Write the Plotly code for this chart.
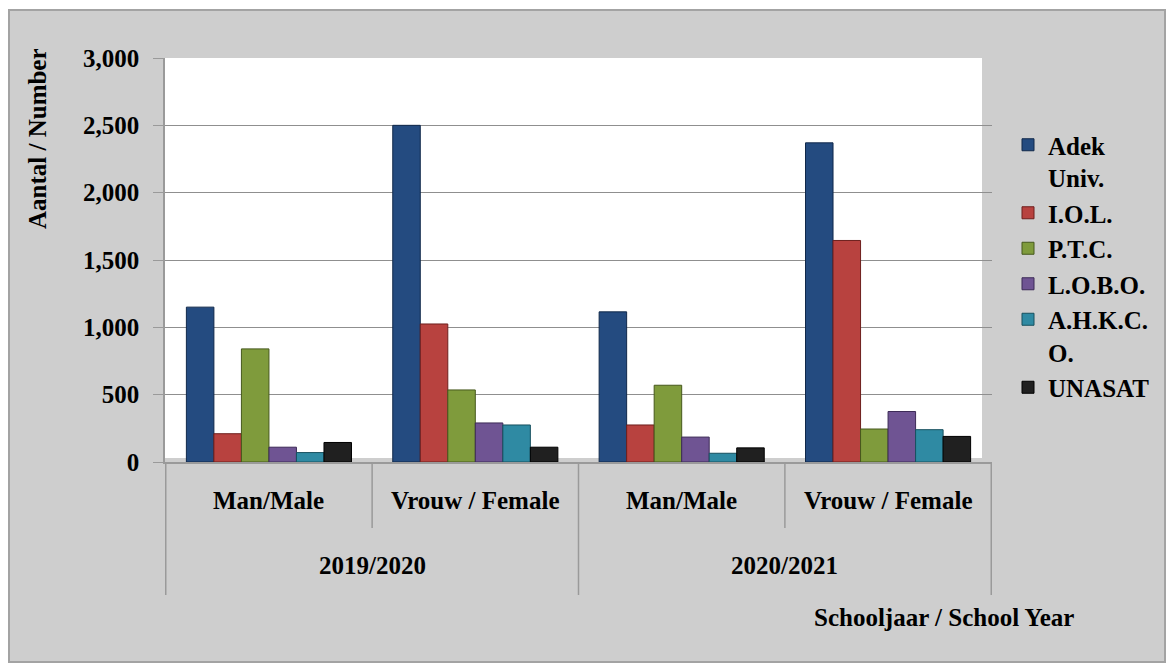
import plotly.graph_objects as go

# data
years = ["2019/2020", "2020/2021"]
genders = ["Man/Male", "Vrouw / Female"]
institutes = ["Adek<br>Univ.", "I.O.L.", "P.T.C.", "L.O.B.O.", "A.H.K.C.<br>O.", "UNASAT"]

# values per category: 2019 male, 2019 female, 2020 male, 2020 female
adek = [1150, 2500, 1115, 2370]
iol = [210, 1025, 275, 1645]
ptc = [840, 535, 570, 245]
lobo = [110, 290, 185, 375]
ahkco = [70, 275, 65, 240]
unasat = [145, 110, 105, 190]

colors = ["#244b80", "#b8423f", "#7f9b3c", "#6f5493", "#2f8aa3", "#202020"]
outlines = ["#10284a", "#6e1f1d", "#46581c", "#3d2b57", "#17505f", "#000000"]

series = [adek, iol, ptc, lobo, ahkco, unasat]
cats = [f"{y} {g}" for y in years for g in genders]

FONT = "Times New Roman, Liberation Serif, serif"
FS = 25
OFF = 8  # the page body adds an 8px margin

# plot area in page pixels
L, R, T, B = 165, 992, 58, 462
W, H = 1174 - OFF, 668 - OFF


def px_x(p):
    return (p - L) / (R - L)


def px_y(p):
    return (B - p) / (B - T)


def bold(size=FS):
    return dict(family=FONT, size=size, color="black", weight="bold")


fig = go.Figure()
for i, (name, vals, c, oc) in enumerate(zip(institutes, series, colors, outlines)):
    fig.add_trace(
        go.Bar(
            x=cats,
            y=vals,
            name=name,
            legendgroup=str(i),
            marker=dict(color=c, line=dict(color=oc, width=1)),
        )
    )

shapes = [
    # outer gray frame
    dict(type="rect", xref="paper", yref="paper", layer="below",
         x0=px_x(9), x1=px_x(1165), y0=px_y(662), y1=px_y(10),
         fillcolor="#cecece", line=dict(color="#a3a3a3", width=2)),
    # white plot area
    dict(type="rect", xref="paper", yref="paper", layer="below",
         x0=0, x1=px_x(982), y0=px_y(458), y1=1,
         fillcolor="white", line=dict(width=0)),
]
# category table dividers
for i, x in enumerate([-0.5, 0.5, 1.5, 2.5, 3.5]):
    bottom = px_y(595) if i % 2 == 0 else px_y(528)
    shapes.append(dict(type="line", xref="x", yref="paper", x0=x, x1=x,
                       y0=0, y1=bottom, line=dict(color="#9a9a9a", width=1.5)))

annotations = []
for i, c in enumerate(cats):
    annotations.append(dict(x=c, y=px_y(500), xref="x", yref="paper",
                            xanchor="center", yanchor="middle",
                            text=genders[i % 2], showarrow=False, font=bold()))
for j, y in enumerate(years):
    annotations.append(dict(x=2 * j + 0.5, y=px_y(565), xref="x", yref="paper",
                            xanchor="center", yanchor="middle",
                            text=y, showarrow=False, font=bold()))
annotations.append(dict(x=px_x(944), y=px_y(617), xref="paper", yref="paper",
                        xanchor="center", yanchor="middle",
                        text="Schooljaar / School Year", showarrow=False, font=bold()))
annotations.append(dict(x=px_x(37), y=px_y(139), xref="paper", yref="paper",
                        xanchor="center", yanchor="middle",
                        text="Aantal / Number", textangle=-90, showarrow=False,
                        font=bold()))

fig.update_layout(
    width=W,
    height=H,
    margin=dict(l=L - OFF, r=1174 - R, t=T - OFF, b=668 - B),
    paper_bgcolor="white",
    plot_bgcolor="rgba(0,0,0,0)",
    barmode="group",
    bargap=0.2,
    bargroupgap=0,
    shapes=shapes,
    annotations=annotations,
    legend=dict(
        x=px_x(1008), y=px_y(122), xanchor="left", yanchor="top",
        font=bold(),
        bgcolor="rgba(0,0,0,0)",
        tracegroupgap=0,
        valign="top",
    ),
    showlegend=True,
)
fig.update_xaxes(
    showticklabels=False,
    showline=True,
    linecolor="#9a9a9a",
    linewidth=1.5,
    showgrid=False,
)
fig.update_yaxes(
    range=[0, 3000],
    dtick=500,
    tickformat=",",
    showline=True,
    linecolor="#9a9a9a",
    linewidth=1.5,
    gridcolor="#8f8f8f",
    gridwidth=1,
    zeroline=False,
    ticks="outside",
    ticklen=10,
    tickcolor="#9a9a9a",
    ticklabelstandoff=9,
    tickfont=bold(),
)

fig.write_html("out.html")
